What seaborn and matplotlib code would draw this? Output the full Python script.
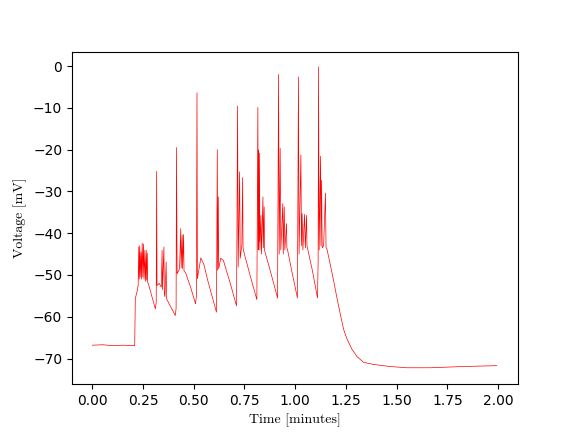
import matplotlib
matplotlib.use('Agg')
import matplotlib.pyplot as plt
import seaborn as sns
import pandas as pd

# voltage trace, one list per stretch (time in minutes, voltage in mV)
rest_t = [0.000, 0.050, 0.100, 0.150, 0.209]
rest_v = [-66.8, -66.7, -66.9, -66.8, -66.9]

burst1_t = [0.212, 0.220, 0.226, 0.229, 0.231, 0.234, 0.236, 0.240, 0.242, 0.246, 0.249,
            0.252, 0.255, 0.259, 0.262, 0.266, 0.268, 0.271, 0.273, 0.276, 0.290, 0.311]
burst1_v = [-55.6, -54.1, -52.5, -43.3, -51.0, -43.0, -50.5, -44.5, -51.0, -42.4, -50.5,
            -42.6, -51.0, -44.1, -51.5, -44.1, -51.2, -44.8, -51.8, -52.0, -54.5, -58.1]

burst2_t = [0.315, 0.317, 0.319, 0.330, 0.340, 0.344, 0.346, 0.353, 0.355, 0.358, 0.364,
            0.366, 0.385, 0.409]
burst2_v = [-56.5, -25.2, -52.5, -52.0, -52.9, -44.1, -53.5, -43.3, -54.5, -55.2, -46.9,
            -55.7, -57.5, -59.7]

burst3_t = [0.413, 0.415, 0.418, 0.430, 0.436, 0.438, 0.443, 0.445, 0.450, 0.452, 0.460,
            0.485, 0.509]
burst3_v = [-58.0, -19.5, -49.7, -48.5, -38.9, -48.3, -40.5, -48.5, -40.3, -49.0, -49.5,
            -53.0, -56.9]

burst4_t = [0.513, 0.516, 0.518, 0.535, 0.550, 0.570, 0.612]
burst4_v = [-55.0, -6.4, -50.9, -45.9, -47.5, -51.5, -58.9]

burst5_t = [0.616, 0.618, 0.621, 0.623, 0.633, 0.646, 0.680, 0.711]
burst5_v = [-20.0, -48.9, -31.3, -48.5, -46.0, -46.5, -52.0, -57.4]

burst6_t = [0.716, 0.719, 0.726, 0.729, 0.737, 0.741, 0.743, 0.749, 0.780, 0.811]
burst6_v = [-9.6, -48.1, -25.3, -46.0, -42.9, -26.7, -43.5, -44.9, -50.5, -55.9]

burst7_t = [0.816, 0.818, 0.819, 0.822, 0.824, 0.826, 0.831, 0.834, 0.841, 0.843, 0.847,
            0.849, 0.880, 0.913]
burst7_v = [-9.9, -44.0, -20.1, -42.0, -20.8, -44.0, -35.7, -45.0, -31.3, -43.5, -33.7,
            -44.1, -49.5, -55.5]

burst8_t = [0.918, 0.921, 0.926, 0.929, 0.939, 0.941, 0.946, 0.949, 0.957, 0.959, 0.962,
            0.985, 1.011]
burst8_v = [-2.0, -45.0, -19.7, -44.0, -32.9, -45.0, -33.7, -44.0, -37.7, -43.5, -43.9,
            -49.5, -55.5]

burst9_t = [1.016, 1.019, 1.028, 1.031, 1.034, 1.038, 1.046, 1.050, 1.056, 1.058, 1.085,
            1.110]
burst9_v = [-2.6, -45.0, -21.3, -43.0, -35.3, -44.0, -35.5, -43.5, -35.7, -43.0, -49.0,
            -55.5]

burst10_t = [1.113, 1.115, 1.118, 1.125, 1.127, 1.130, 1.133, 1.140, 1.149, 1.152, 1.156]
burst10_v = [-46.5, -0.2, -44.0, -21.6, -43.0, -27.3, -43.5, -43.0, -30.4, -43.5, -43.7]

recovery_t = [1.172, 1.189, 1.205, 1.222, 1.238, 1.255, 1.279, 1.304, 1.337, 1.386, 1.468,
              1.550, 1.665, 1.829, 1.993]
recovery_v = [-47.3, -51.3, -55.3, -59.3, -62.9, -65.3, -67.7, -69.5, -70.9, -71.4, -71.9,
              -72.2, -72.2, -71.9, -71.7]

time_min = (rest_t + burst1_t + burst2_t + burst3_t + burst4_t + burst5_t + burst6_t
            + burst7_t + burst8_t + burst9_t + burst10_t + recovery_t)
voltage_mv = (rest_v + burst1_v + burst2_v + burst3_v + burst4_v + burst5_v + burst6_v
              + burst7_v + burst8_v + burst9_v + burst10_v + recovery_v)

trace = pd.DataFrame({'time': time_min, 'voltage': voltage_mv})

fig, ax = plt.subplots(figsize=(5.76, 4.32), dpi=100)
sns.lineplot(data=trace, x='time', y='voltage', sort=False, estimator=None,
             color='red', linewidth=0.5, ax=ax)
ax.set_xlabel('Time [minutes]', family='cmr10')
ax.set_ylabel('Voltage [mV]', family='cmr10')
ax.set_xticks([0, 0.25, 0.5, 0.75, 1.0, 1.25, 1.5, 1.75, 2.0])
ax.set_xlim(-0.1, 2.1)
ax.set_ylim(-76.2, 3.4)

plt.savefig('out.png', dpi=100)
